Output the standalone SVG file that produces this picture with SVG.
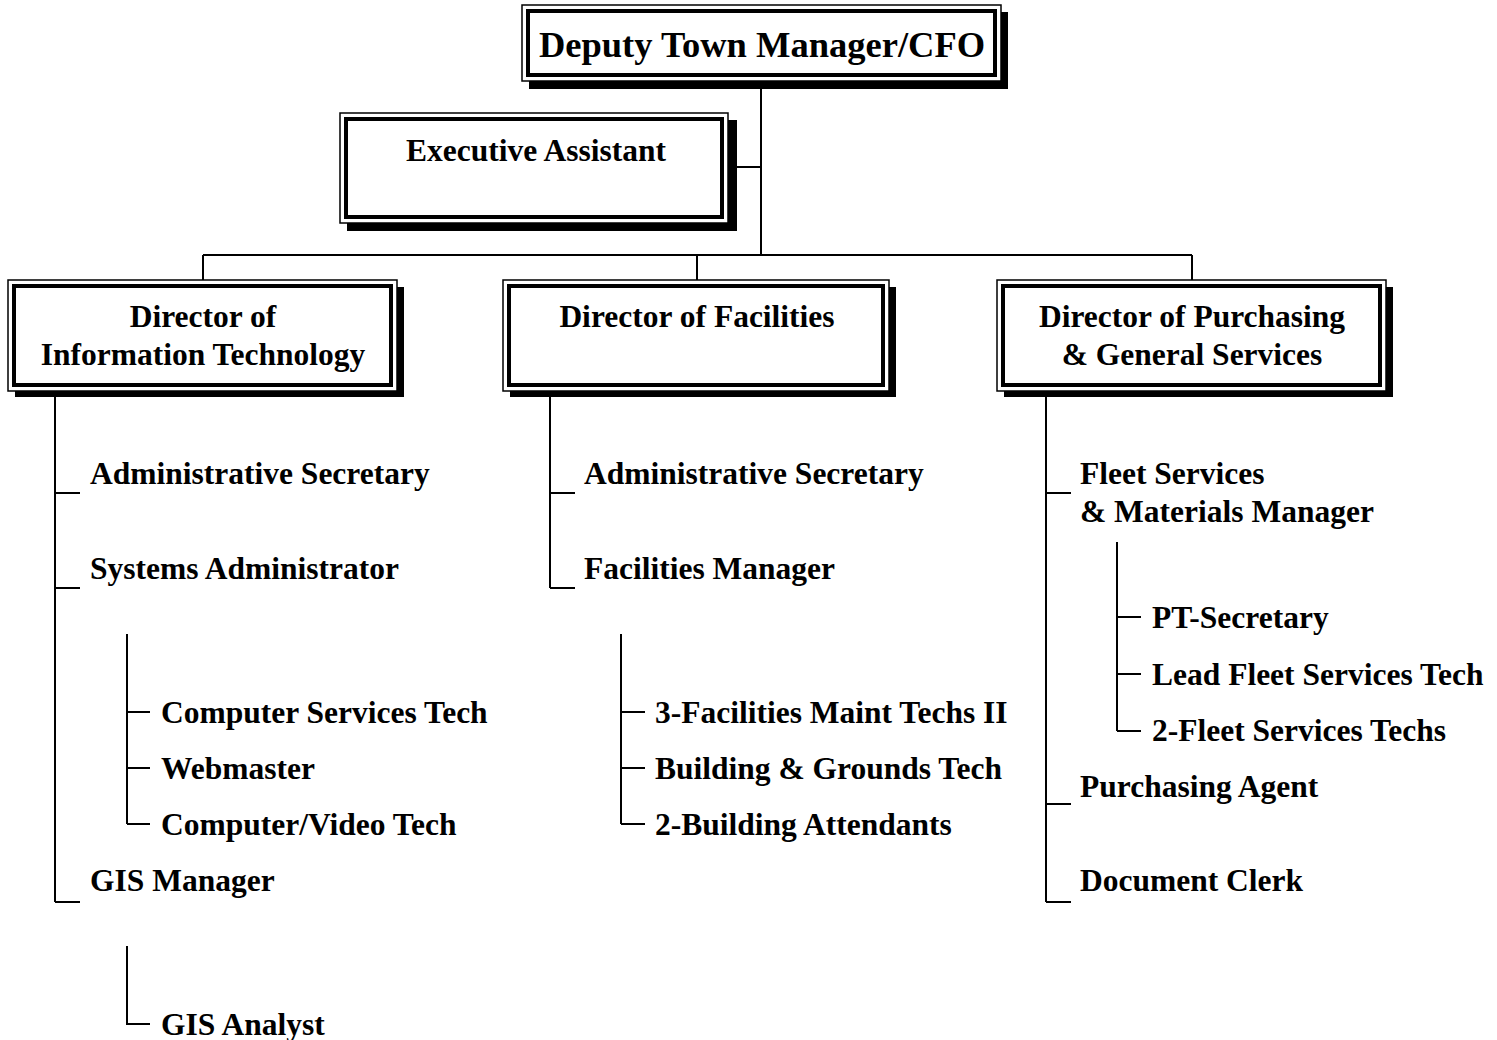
<svg xmlns="http://www.w3.org/2000/svg" width="1497" height="1040" viewBox="0 0 1497 1040">
<style>
.t{font-family:"Liberation Serif","Times New Roman",serif;font-weight:bold;fill:#000;font-size:31.5px}
.c{text-anchor:middle}
.sh{fill:#000}
.o{fill:#fff;stroke:#000;stroke-width:1.5}
.i{fill:none;stroke:#000;stroke-width:4}
.ln{stroke:#000;stroke-width:2;fill:none}
</style>
<rect width="1497" height="1040" fill="#fff"/>
<g id="connectors">
<path class="ln" d="M761 81V255M728 167H761M203 255H1192M203 255V280M697 255V280M1192 255V280"/>
<path class="ln" d="M55 397V902M55 493H80M55 588H80M55 902H80"/>
<path class="ln" d="M127 634V824M127 712H150M127 768H150M127 824H150"/>
<path class="ln" d="M127 946V1024H150"/>
<path class="ln" d="M550 397V588M550 493H575M550 588H575"/>
<path class="ln" d="M621 634V824M621 712H645M621 768H645M621 824H645"/>
<path class="ln" d="M1046 397V902M1046 493H1071M1046 804H1071M1046 902H1071"/>
<path class="ln" d="M1117 542V731M1117 617H1141M1117 674H1141M1117 731H1141"/>
</g>
<g id="n-deputy">
<rect class="sh" x="529" y="12" width="479" height="77"/>
<rect class="o" x="522" y="5" width="479" height="76"/>
<rect class="i" x="528" y="11" width="467" height="64"/>
<text class="t c" x="762" y="57" style="font-size:36.5px">Deputy Town Manager/CFO</text>
</g>
<g id="n-exec">
<rect class="sh" x="347" y="120" width="390" height="111"/>
<rect class="o" x="340" y="113" width="388" height="110"/>
<rect class="i" x="346" y="119" width="376" height="98"/>
<text class="t c" x="536" y="161">Executive Assistant</text>
</g>
<g id="n-it">
<rect class="sh" x="15" y="287" width="389" height="110"/>
<rect class="o" x="8" y="280" width="389" height="111"/>
<rect class="i" x="14" y="286" width="377" height="99"/>
<text class="t c" x="203" y="327">Director of</text>
<text class="t c" x="203" y="365">Information Technology</text>
</g>
<g id="n-fac">
<rect class="sh" x="510" y="287" width="386" height="110"/>
<rect class="o" x="503" y="280" width="386" height="111"/>
<rect class="i" x="509" y="286" width="374" height="99"/>
<text class="t c" x="697" y="327">Director of Facilities</text>
</g>
<g id="n-pur">
<rect class="sh" x="1004" y="287" width="389" height="110"/>
<rect class="o" x="997" y="280" width="389" height="111"/>
<rect class="i" x="1003" y="286" width="377" height="99"/>
<text class="t c" x="1192" y="327">Director of Purchasing</text>
<text class="t c" x="1192" y="365">&amp; General Services</text>
</g>
<g id="it-staff">
<text class="t" x="90" y="484">Administrative Secretary</text>
<text class="t" x="90" y="579">Systems Administrator</text>
<text class="t" x="161" y="723">Computer Services Tech</text>
<text class="t" x="161" y="779">Webmaster</text>
<text class="t" x="161" y="835">Computer/Video Tech</text>
<text class="t" x="90" y="891">GIS Manager</text>
<text class="t" x="161" y="1035">GIS Analyst</text>
</g>
<g id="fac-staff">
<text class="t" x="584" y="484">Administrative Secretary</text>
<text class="t" x="584" y="579">Facilities Manager</text>
<text class="t" x="655" y="723">3-Facilities Maint Techs II</text>
<text class="t" x="655" y="779">Building &amp; Grounds Tech</text>
<text class="t" x="655" y="835">2-Building Attendants</text>
</g>
<g id="pur-staff">
<text class="t" x="1080" y="484">Fleet Services</text>
<text class="t" x="1080" y="522">&amp; Materials Manager</text>
<text class="t" x="1152" y="628">PT-Secretary</text>
<text class="t" x="1152" y="685">Lead Fleet Services Tech</text>
<text class="t" x="1152" y="741">2-Fleet Services Techs</text>
<text class="t" x="1080" y="797">Purchasing Agent</text>
<text class="t" x="1080" y="891">Document Clerk</text>
</g>
</svg>
